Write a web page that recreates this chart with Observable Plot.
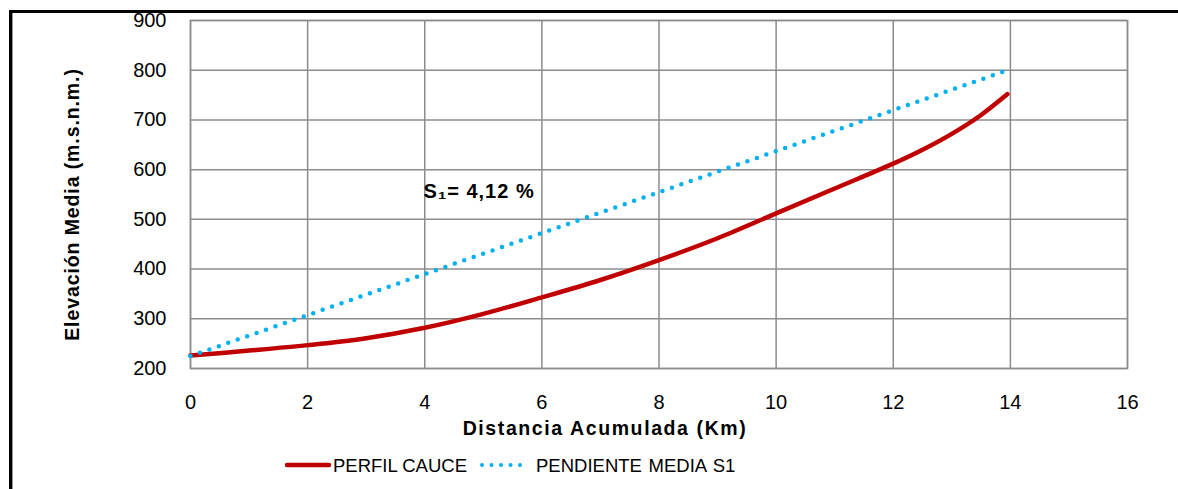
<!DOCTYPE html>
<html>
<head>
<meta charset="utf-8">
<script src="https://cdn.jsdelivr.net/npm/d3@7"></script>
<script src="https://cdn.jsdelivr.net/npm/@observablehq/plot@0.6"></script>
<style>
  body { margin: 0; background: #fff; font-family: "Liberation Sans", Arial, sans-serif; }
  #wrap { position: relative; width: 1178px; height: 489px; overflow: hidden; }
  #border { position: absolute; left: 9px; top: 10px; right: -5px; bottom: -5px;
            border-top: 3px solid #000; border-left: 3px solid #000; pointer-events: none; }
  #border2 { position: absolute; left: 12px; top: 13px; width: 1px; bottom: 0; background: #999; }
  #chart { position: absolute; left: 0; top: 0; }
  #legend { position: absolute; top: 453px; left: 0; width: 1178px; height: 26px;
            font-size: 18.5px; color: #000; }
  .lg { position: absolute; top: 0; height: 26px; line-height: 26px; white-space: nowrap; }
</style>
</head>
<body>
<div id="wrap">
  <div id="chart"></div>
  <div id="legend"></div>
  <div id="border"></div>
  <div id="border2"></div>
</div>
<script>
// ---- data ----
const distKm = [0, 1, 2, 3, 4, 5, 6, 7, 8, 9, 10, 11, 12, 12.5, 13, 13.5, 13.95];
const elevPerfil = [226, 236, 247, 261, 282, 310, 343, 378, 418, 462, 512, 562, 612, 640, 672, 710, 752];
const distPendiente = [0, 13.95];
const elevPendiente = [225, 800];
const xTicks = [0, 2, 4, 6, 8, 10, 12, 14, 16];
const yTicks = [200, 300, 400, 500, 600, 700, 800, 900];
const seriesNames = ["PERFIL CAUCE", "PENDIENTE MEDIA S1"];
const seriesColors = ["#c00000", "#00b0f0"];
const xTitle = "Distancia Acumulada (Km)";
const yTitle = "Elevación Media (m.s.n.m.)";
const annotation = { x: 3.98, y: 542, text: "S₁= 4,12 %" };

const perfil = distKm.map((d, i) => ({ x: d, y: elevPerfil[i] }));
const pendiente = distPendiente.map((d, i) => ({ x: d, y: elevPendiente[i] }));

const gridColor = "#8c8c8c";
const font = "Liberation Sans, Arial, sans-serif";

const chart = Plot.plot({
  width: 1178,
  height: 440,
  marginLeft: 190,
  marginRight: 51,
  marginTop: 20,
  marginBottom: 72,
  style: { fontFamily: font, fontSize: "20px", color: "#000", background: "transparent", overflow: "visible" },
  x: { domain: [0, 16], ticks: xTicks, axis: null },
  y: { domain: [200, 900], ticks: yTicks, axis: null },
  marks: [
    Plot.gridX(xTicks, { stroke: gridColor, strokeOpacity: 1, strokeWidth: 1.5 }),
    Plot.gridY(yTicks, { stroke: gridColor, strokeOpacity: 1, strokeWidth: 1.5 }),
    Plot.frame({ stroke: gridColor, strokeWidth: 1.5 }),
    // tick labels
    Plot.text(xTicks, { x: d => d, frameAnchor: "bottom", dy: 34, text: d => String(d), fontSize: 20, lineAnchor: "middle", fill: "#000" }),
    Plot.text(yTicks, { y: d => d, frameAnchor: "left", dx: -24, text: d => String(d), fontSize: 20, textAnchor: "end", lineAnchor: "middle", fill: "#000" }),
    Plot.line(perfil, { x: "x", y: "y", stroke: seriesColors[0], strokeWidth: 4.5, curve: "catmull-rom", strokeLinecap: "round" }),
    Plot.line(pendiente, { x: "x", y: "y", stroke: seriesColors[1], strokeWidth: 4.5, strokeDasharray: "0 10", strokeLinecap: "round" }),
    Plot.text([annotation], { x: "x", y: "y", text: "text", textAnchor: "start", lineAnchor: "bottom", fontWeight: "bold", fontSize: 20, fill: "#000" }),
    Plot.text([xTitle], { frameAnchor: "bottom", dx: -54, dy: 60, text: d => d, fontWeight: "bold", fontSize: 19.5, textAnchor: "middle", lineAnchor: "middle", fill: "#000" }),
    Plot.text([yTitle], { frameAnchor: "left", dx: -118, dy: 10, rotate: -90, text: d => d, fontWeight: "bold", fontSize: 19.5, textAnchor: "middle", lineAnchor: "middle", fill: "#000" })
  ]
});
chart.querySelectorAll("text").forEach(t => {
  if (t.textContent === xTitle) t.setAttribute("letter-spacing", "1.6px");
  if (t.textContent === yTitle) t.setAttribute("letter-spacing", "0.9px");
  if (t.textContent === annotation.text) t.setAttribute("letter-spacing", "1px");
});
document.getElementById("chart").appendChild(chart);

// ---- legend ----
const legend = document.getElementById("legend");
const items = [
  { x0: 287, x1: 329, tx: 333, dash: null },
  { x0: 482, x1: 528, tx: 536, dash: "0 9.5" }
];
items.forEach((it, i) => {
  const sw = document.createElementNS("http://www.w3.org/2000/svg", "svg");
  sw.setAttribute("width", it.x1 - it.x0 + 6);
  sw.setAttribute("height", 26);
  sw.style.position = "absolute";
  sw.style.left = (it.x0 - 3) + "px";
  sw.style.top = "0px";
  const ln = document.createElementNS("http://www.w3.org/2000/svg", "line");
  ln.setAttribute("x1", 3); ln.setAttribute("x2", it.x1 - it.x0 + 3);
  ln.setAttribute("y1", 12); ln.setAttribute("y2", 12);
  ln.setAttribute("stroke", seriesColors[i]);
  ln.setAttribute("stroke-width", i === 0 ? 4.5 : 4);
  ln.setAttribute("stroke-linecap", "round");
  if (it.dash) ln.setAttribute("stroke-dasharray", it.dash);
  sw.appendChild(ln);
  legend.appendChild(sw);
  const tx = document.createElement("div");
  tx.className = "lg";
  tx.style.left = it.tx + "px";
  tx.textContent = seriesNames[i];
  if (i === 1) tx.style.wordSpacing = "1.5px";
  legend.appendChild(tx);
});
</script>
</body>
</html>
